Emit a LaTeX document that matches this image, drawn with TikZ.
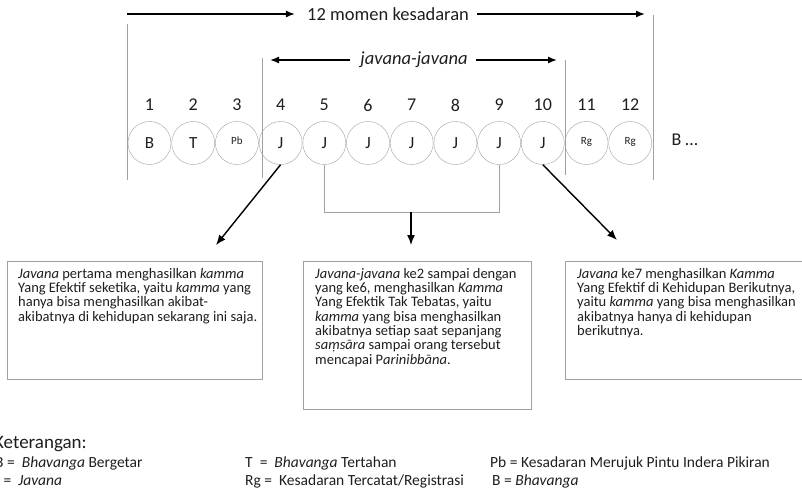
\documentclass[tikz,border=0pt]{standalone}
\usepackage{fontspec}
\setmainfont{Carlito}
\usetikzlibrary{arrows.meta}
\tikzstyle{diagram} = [x = 1pt, y = -1pt]
\definecolor{lineColor}{RGB}{160,160,160}
\definecolor{textColor}{RGB}{30,30,30}
\tikzstyle{momentStyle} = [circle, draw=lineColor, minimum size=43pt, inner sep=0pt, text=textColor, font=\fontsize{17}{17}\selectfont]
\tikzstyle{numberText} = [text=textColor, font=\fontsize{18}{18}\selectfont]
\tikzstyle{spanText} = [text=textColor, inner sep=0pt, font=\fontsize{18.5}{18.5}\selectfont]
\tikzstyle{boundLine} = [draw=lineColor, line width=.8pt]
\tikzstyle{spanArrow} = [-{Latex[length=9pt, width=7pt]}, line width=1.4pt]
\tikzstyle{pointArrow} = [-{Latex[length=10pt, width=8pt]}, line width=1.4pt]
\tikzstyle{noteBox} = [draw=lineColor, line width=.8pt, anchor=north west, inner sep=0pt]
\tikzstyle{noteText} = [anchor=north west, align=left, inner sep=0pt, text=textColor, font=\fontsize{14.5}{14.3}\selectfont]
\tikzstyle{legendText} = [anchor=base west, inner sep=0pt, text=textColor, font=\fontsize{15.5}{15.5}\selectfont]
\newcommand{\momentSmall}[1]{\raisebox{4pt}{\fontsize{11}{11}\selectfont #1}}
\newcommand{\spacing}{43.7}

\begin{document}
\begin{tikzpicture}[diagram]
\useasboundingbox (0,0) rectangle (802,489);
% moments
\foreach \label [count=\i] in {B,T,\momentSmall{Pb},J,J,J,J,J,J,J,\momentSmall{Rg},\momentSmall{Rg}} {
  \pgfmathsetmacro{\xPos}{149.5 + \spacing * (\i - 1)}
  \node [momentStyle] (c\i) at (\xPos,143) {\label};
  \node [numberText] (n\i) at (\xPos,105) {\i};
}
\node [numberText, anchor=west] (next) at (668,140) {B \dots};
% bounds
\coordinate (outerTopL) at (127,24);
\coordinate (outerBotL) at (127,180);
\coordinate (outerTopR) at (653,15);
\coordinate (outerBotR) at (653,180);
\coordinate (javanaTopL) at (262,58);
\coordinate (javanaBotL) at (262,178);
\coordinate (javanaTopR) at (565,60);
\coordinate (javanaBotR) at (565,175);
\draw [boundLine] (outerTopL) -- (outerBotL);
\draw [boundLine] (outerTopR) -- (outerBotR);
\draw [boundLine] (javanaTopL) -- (javanaBotL);
\draw [boundLine] (javanaTopR) -- (javanaBotR);
\node [spanText] (momen) at (388,14) {12 momen kesadaran};
\node [spanText] (javana) at (414,60) {\itshape javana-javana};
\draw [spanArrow] (127,14) -- ([xshift=-12pt]momen.west);
\draw [spanArrow] ([xshift=8pt]momen.east) -- (645,14);
\draw [spanArrow] ([xshift=-10pt]javana.west) -- (270,60);
\draw [spanArrow] ([xshift=8pt]javana.east) -- (557,60);
% notes
\node [noteBox, minimum width=255pt, minimum height=118pt] (leftBox) at (7,261) {};
\node [noteBox, minimum width=228pt, minimum height=148pt] (midBox) at (303,261) {};
\node [noteBox, minimum width=250pt, minimum height=118pt] (rightBox) at (565,261) {};
\node [noteText] (leftText) at ([shift={(11pt,-7pt)}]leftBox.north west) {\textit{Javana} pertama menghasilkan \textit{kamma}\\Yang Efektif seketika, yaitu \textit{kamma} yang\\hanya bisa menghasilkan akibat-\\akibatnya di kehidupan sekarang ini saja.};
\node [noteText] (midText) at ([shift={(12pt,-7pt)}]midBox.north west) {\textit{Javana-javana} ke2 sampai dengan\\yang ke6, menghasilkan \textit{Kamma}\\Yang Efektik Tak Tebatas, yaitu\\\textit{kamma} yang bisa menghasilkan\\akibatnya setiap saat sepanjang\\\textit{saṃsāra} sampai orang tersebut\\mencapai P\textit{arinibbāna}.};
\node [noteText] (rightText) at ([shift={(12pt,-7pt)}]rightBox.north west) {\textit{Javana} ke7 menghasilkan \textit{Kamma}\\Yang Efektif di Kehidupan Berikutnya,\\yaitu \textit{kamma} yang bisa menghasilkan\\akibatnya hanya di kehidupan\\berikutnya.};
% pointers
\coordinate (leftTip) at (216,245);
\coordinate (rightTip) at (617,240);
\coordinate (bracketL) at (c5.south |- 0,212);
\coordinate (bracketR) at (c9.south |- 0,212);
\coordinate (bracketMid) at (411,212);
\coordinate (midTip) at (411,245);
\draw [pointArrow] (c4.south) -- (leftTip);
\draw [pointArrow] (c10.south) -- (rightTip);
\draw [boundLine] (c5.south) -- (bracketL) -- (bracketR) -- (c9.south);
\draw [pointArrow] (bracketMid) -- (midTip);
% legend
\node [legendText, font=\fontsize{19}{19}\selectfont] (legendTitle) at (-6,448) {Keterangan:};
\node [legendText] (legendB) at (-5,467) {B =\ \ \textit{Bhavanga} Bergetar};
\node [legendText] (legendJ) at (-5,485) {J =\ \ \textit{Javana}};
\node [legendText] (legendT) at (245,467) {T\ \ =\ \ \textit{Bhavanga} Tertahan};
\node [legendText] (legendRg) at (245,485) {Rg =\ \ Kesadaran Tercatat/Registrasi};
\node [legendText] (legendPb) at (490,467) {Pb = Kesadaran Merujuk Pintu Indera Pikiran};
\node [legendText] (legendBh) at (492,485) {B = \textit{Bhavanga}};
\end{tikzpicture}
\end{document}
